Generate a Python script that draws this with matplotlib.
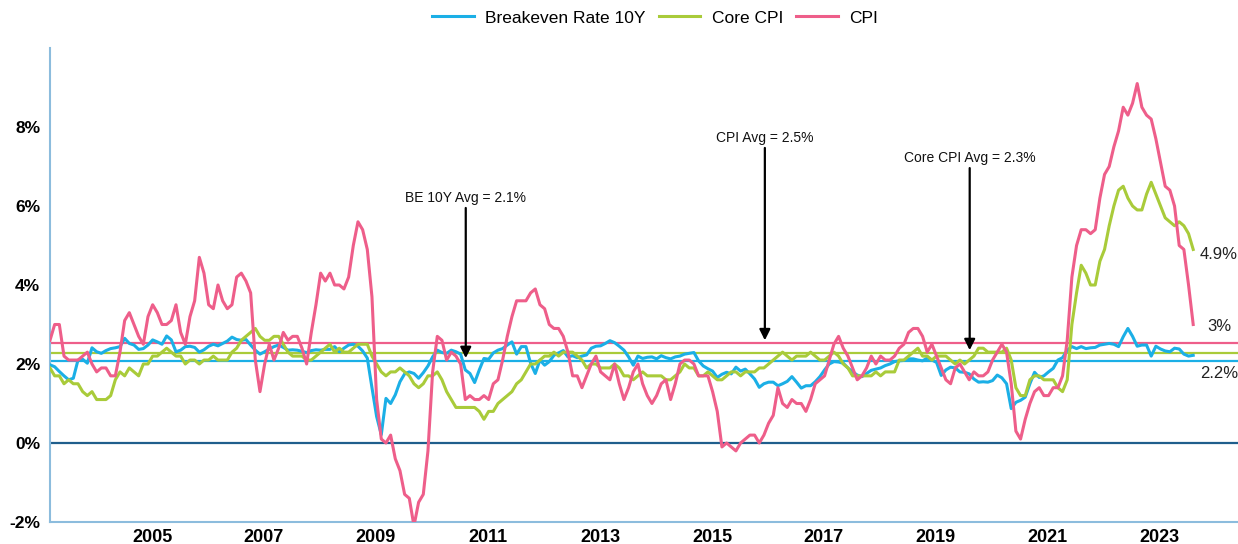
import numpy as np
import matplotlib.pyplot as plt

plt.rcParams['font.family'] = ['Liberation Sans', 'DejaVu Sans']

# monthly values, Jan 2003 .. Jun 2023 (%, year over year)
be_10y = [
    1.98, 1.93, 1.81, 1.70, 1.60, 1.64, 2.10, 2.12, 2.02, 2.41, 2.31, 2.27,
    2.34, 2.39, 2.41, 2.44, 2.65, 2.52, 2.48, 2.37, 2.39, 2.48, 2.61, 2.56,
    2.50, 2.71, 2.61, 2.31, 2.35, 2.44, 2.45, 2.42, 2.30, 2.36, 2.45, 2.50,
    2.46, 2.52, 2.58, 2.68, 2.62, 2.60, 2.62, 2.48, 2.35, 2.25, 2.31, 2.38,
    2.44, 2.48, 2.42, 2.35, 2.36, 2.35, 2.32, 2.29, 2.34, 2.36, 2.35, 2.37,
    2.37, 2.44, 2.31, 2.40, 2.48, 2.50, 2.45, 2.33, 2.15, 1.40, 0.67, 0.21,
    1.13, 1.00, 1.22, 1.55, 1.75, 1.80, 1.76, 1.64, 1.78, 1.95, 2.18, 2.35,
    2.29, 2.27, 2.35, 2.31, 2.25, 1.85, 1.76, 1.53, 1.85, 2.14, 2.12, 2.28,
    2.35, 2.39, 2.48, 2.56, 2.25, 2.44, 2.44, 2.02, 1.76, 2.10, 1.97, 2.06,
    2.22, 2.28, 2.34, 2.18, 2.21, 2.16, 2.20, 2.23, 2.40, 2.45, 2.46, 2.52,
    2.59, 2.54, 2.45, 2.35, 2.18, 1.97, 2.20, 2.14, 2.17, 2.18, 2.13, 2.21,
    2.16, 2.13, 2.18, 2.20, 2.25, 2.27, 2.29, 2.08, 1.95, 1.88, 1.82, 1.66,
    1.74, 1.79, 1.75, 1.92, 1.82, 1.87, 1.75, 1.62, 1.41, 1.50, 1.54, 1.54,
    1.45, 1.50, 1.56, 1.68, 1.54, 1.39, 1.45, 1.45, 1.55, 1.68, 1.85, 2.00,
    2.06, 2.05, 2.02, 1.90, 1.80, 1.72, 1.68, 1.76, 1.84, 1.87, 1.90, 1.96,
    2.00, 2.06, 2.08, 2.09, 2.13, 2.13, 2.10, 2.08, 2.15, 2.10, 2.04, 1.71,
    1.85, 1.92, 1.90, 1.80, 1.79, 1.75, 1.62, 1.54, 1.55, 1.54, 1.58, 1.72,
    1.65, 1.50, 0.87, 1.03, 1.08, 1.16, 1.50, 1.79, 1.66, 1.70, 1.80, 1.89,
    2.10, 2.16, 2.35, 2.44, 2.39, 2.44, 2.39, 2.41, 2.42, 2.48, 2.50, 2.52,
    2.50, 2.44, 2.69, 2.90, 2.70, 2.45, 2.48, 2.48, 2.20, 2.45, 2.38, 2.33,
    2.31, 2.40, 2.38, 2.25, 2.20, 2.22,
]

core_cpi = [
    1.9, 1.7, 1.7, 1.5, 1.6, 1.5, 1.5, 1.3, 1.2, 1.3, 1.1, 1.1,
    1.1, 1.2, 1.6, 1.8, 1.7, 1.9, 1.8, 1.7, 2.0, 2.0, 2.2, 2.2,
    2.3, 2.4, 2.3, 2.2, 2.2, 2.0, 2.1, 2.1, 2.0, 2.1, 2.1, 2.2,
    2.1, 2.1, 2.1, 2.3, 2.4, 2.6, 2.7, 2.8, 2.9, 2.7, 2.6, 2.6,
    2.7, 2.7, 2.5, 2.3, 2.2, 2.2, 2.2, 2.1, 2.1, 2.2, 2.3, 2.4,
    2.5, 2.3, 2.4, 2.3, 2.3, 2.4, 2.5, 2.5, 2.5, 2.2, 2.0, 1.8,
    1.7, 1.8, 1.8, 1.9, 1.8, 1.7, 1.5, 1.4, 1.5, 1.7, 1.7, 1.8,
    1.6, 1.3, 1.1, 0.9, 0.9, 0.9, 0.9, 0.9, 0.8, 0.6, 0.8, 0.8,
    1.0, 1.1, 1.2, 1.3, 1.5, 1.6, 1.8, 2.0, 2.0, 2.1, 2.2, 2.2,
    2.3, 2.2, 2.3, 2.3, 2.3, 2.2, 2.1, 1.9, 2.0, 2.0, 1.9, 1.9,
    1.9, 2.0, 1.9, 1.7, 1.7, 1.6, 1.7, 1.8, 1.7, 1.7, 1.7, 1.7,
    1.6, 1.6, 1.7, 1.8, 2.0, 1.9, 1.9, 1.7, 1.7, 1.8, 1.7, 1.6,
    1.6, 1.7, 1.8, 1.8, 1.7, 1.8, 1.8, 1.8, 1.9, 1.9, 2.0, 2.1,
    2.2, 2.3, 2.2, 2.1, 2.2, 2.2, 2.2, 2.3, 2.2, 2.1, 2.1, 2.2,
    2.3, 2.2, 2.0, 1.9, 1.7, 1.7, 1.7, 1.7, 1.7, 1.8, 1.7, 1.8,
    1.8, 1.8, 2.1, 2.1, 2.2, 2.3, 2.4, 2.2, 2.2, 2.1, 2.2, 2.2,
    2.2, 2.1, 2.0, 2.1, 2.0, 2.1, 2.2, 2.4, 2.4, 2.3, 2.3, 2.3,
    2.3, 2.4, 2.1, 1.4, 1.2, 1.2, 1.6, 1.7, 1.7, 1.6, 1.6, 1.6,
    1.4, 1.3, 1.6, 3.0, 3.8, 4.5, 4.3, 4.0, 4.0, 4.6, 4.9, 5.5,
    6.0, 6.4, 6.5, 6.2, 6.0, 5.9, 5.9, 6.3, 6.6, 6.3, 6.0, 5.7,
    5.6, 5.5, 5.6, 5.5, 5.3, 4.9,
]

cpi = [
    2.6, 3.0, 3.0, 2.2, 2.1, 2.1, 2.1, 2.2, 2.3, 2.0, 1.8, 1.9,
    1.9, 1.7, 1.7, 2.3, 3.1, 3.3, 3.0, 2.7, 2.5, 3.2, 3.5, 3.3,
    3.0, 3.0, 3.1, 3.5, 2.8, 2.5, 3.2, 3.6, 4.7, 4.3, 3.5, 3.4,
    4.0, 3.6, 3.4, 3.5, 4.2, 4.3, 4.1, 3.8, 2.1, 1.3, 2.0, 2.5,
    2.1, 2.4, 2.8, 2.6, 2.7, 2.7, 2.4, 2.0, 2.8, 3.5, 4.3, 4.1,
    4.3, 4.0, 4.0, 3.9, 4.2, 5.0, 5.6, 5.4, 4.9, 3.7, 1.1, 0.1,
    0.0, 0.2, -0.4, -0.7, -1.3, -1.4, -2.1, -1.5, -1.3, -0.2, 1.8, 2.7,
    2.6, 2.1, 2.3, 2.2, 2.0, 1.1, 1.2, 1.1, 1.1, 1.2, 1.1, 1.5,
    1.6, 2.1, 2.7, 3.2, 3.6, 3.6, 3.6, 3.8, 3.9, 3.5, 3.4, 3.0,
    2.9, 2.9, 2.7, 2.3, 1.7, 1.7, 1.4, 1.7, 2.0, 2.2, 1.8, 1.7,
    1.6, 2.0, 1.5, 1.1, 1.4, 1.8, 2.0, 1.5, 1.2, 1.0, 1.2, 1.5,
    1.6, 1.1, 1.5, 2.0, 2.1, 2.1, 2.0, 1.7, 1.7, 1.7, 1.3, 0.8,
    -0.1, 0.0, -0.1, -0.2, 0.0, 0.1, 0.2, 0.2, 0.0, 0.2, 0.5, 0.7,
    1.4, 1.0, 0.9, 1.1, 1.0, 1.0, 0.8, 1.1, 1.5, 1.6, 1.7, 2.1,
    2.5, 2.7, 2.4, 2.2, 1.9, 1.6, 1.7, 1.9, 2.2, 2.0, 2.2, 2.1,
    2.1, 2.2, 2.4, 2.5, 2.8, 2.9, 2.9, 2.7, 2.3, 2.5, 2.2, 1.9,
    1.6, 1.5, 1.9, 2.0, 1.8, 1.6, 1.8, 1.7, 1.7, 1.8, 2.1, 2.3,
    2.5, 2.3, 1.5, 0.3, 0.1, 0.6, 1.0, 1.3, 1.4, 1.2, 1.2, 1.4,
    1.4, 1.7, 2.6, 4.2, 5.0, 5.4, 5.4, 5.3, 5.4, 6.2, 6.8, 7.0,
    7.5, 7.9, 8.5, 8.3, 8.6, 9.1, 8.5, 8.3, 8.2, 7.7, 7.1, 6.5,
    6.4, 6.0, 5.0, 4.9, 4.0, 3.0,
]

# long-run averages shown as flat lines
be_avg = 2.08
core_avg = 2.29
cpi_avg = 2.54

year_labels = [2005, 2007, 2009, 2011, 2013, 2015, 2017, 2019, 2021, 2023]

BLUE = "#1BAFE6"
GREEN = "#A9CB3A"
PINK = "#EE5E8A"

months = np.arange(len(cpi))

fig = plt.figure(figsize=(12.38, 5.44), dpi=100)
ax = fig.add_axes([50 / 1238, 22 / 544, 1188 / 1238, 474 / 544])

ax.axhline(0, color="#1F5E8C", lw=1.6, zorder=1.5)
ax.axhline(cpi_avg, color=PINK, lw=1.6, zorder=1.6)
ax.axhline(core_avg, color=GREEN, lw=1.6, zorder=1.6)
ax.axhline(be_avg, color=BLUE, lw=1.6, zorder=1.6)

ax.plot(months, be_10y, color=BLUE, lw=2.2, label="Breakeven Rate 10Y", zorder=3)
ax.plot(months, core_cpi, color=GREEN, lw=2.2, label="Core CPI", zorder=3)
ax.plot(months, cpi, color=PINK, lw=2.2, label="CPI", zorder=3)

ax.set_xlim(0, 254.6)
ax.set_ylim(-2, 10)

# year labels sit a little before January on this chart
ax.set_xticks([(y - 2003) * 12 - 2.14 for y in year_labels])
ax.set_xticklabels([str(y) for y in year_labels], fontsize=13, fontweight="bold")
yt = [-2, 0, 2, 4, 6, 8]
ax.set_yticks(yt)
ax.set_yticklabels([f"{v}%" for v in yt], fontsize=12.5, fontweight="bold")
ax.tick_params(length=0, pad=5)
ax.tick_params(axis="y", pad=7)

for side in ["top", "right"]:
    ax.spines[side].set_visible(False)
for side in ["left", "bottom"]:
    ax.spines[side].set_color("#8CBCDD")
    ax.spines[side].set_linewidth(1.5)

arrows = [
    ("BE 10Y Avg = 2.1%", 89.1, 6.2, 5.95, 2.15),
    ("CPI Avg = 2.5%", 153.2, 7.72, 7.47, 2.6),
    ("Core CPI Avg = 2.3%", 197.1, 7.22, 6.96, 2.35),
]
for text, xi, ty, y0, y1 in arrows:
    ax.text(xi, ty, text, ha="center", va="center", fontsize=10, color="#111111")
    ax.annotate("", xy=(xi, y1), xytext=(xi, y0),
                arrowprops=dict(arrowstyle="-|>", color="black", lw=1.6,
                                mutation_scale=16, shrinkA=0, shrinkB=0),
                zorder=5)

ax.text(246.4, 4.78, "4.9%", fontsize=12, va="center", color="#222222")
ax.text(248.0, 2.95, "3%", fontsize=12, va="center", color="#222222")
ax.text(246.4, 1.76, "2.2%", fontsize=12, va="center", color="#222222")

fig.legend(loc="center", bbox_to_anchor=(0.529, 0.967), ncol=3, frameon=False,
           fontsize=12.5, handlelength=2.4, handletextpad=0.65, columnspacing=0.75)

fig.savefig("out.png", dpi=100)
